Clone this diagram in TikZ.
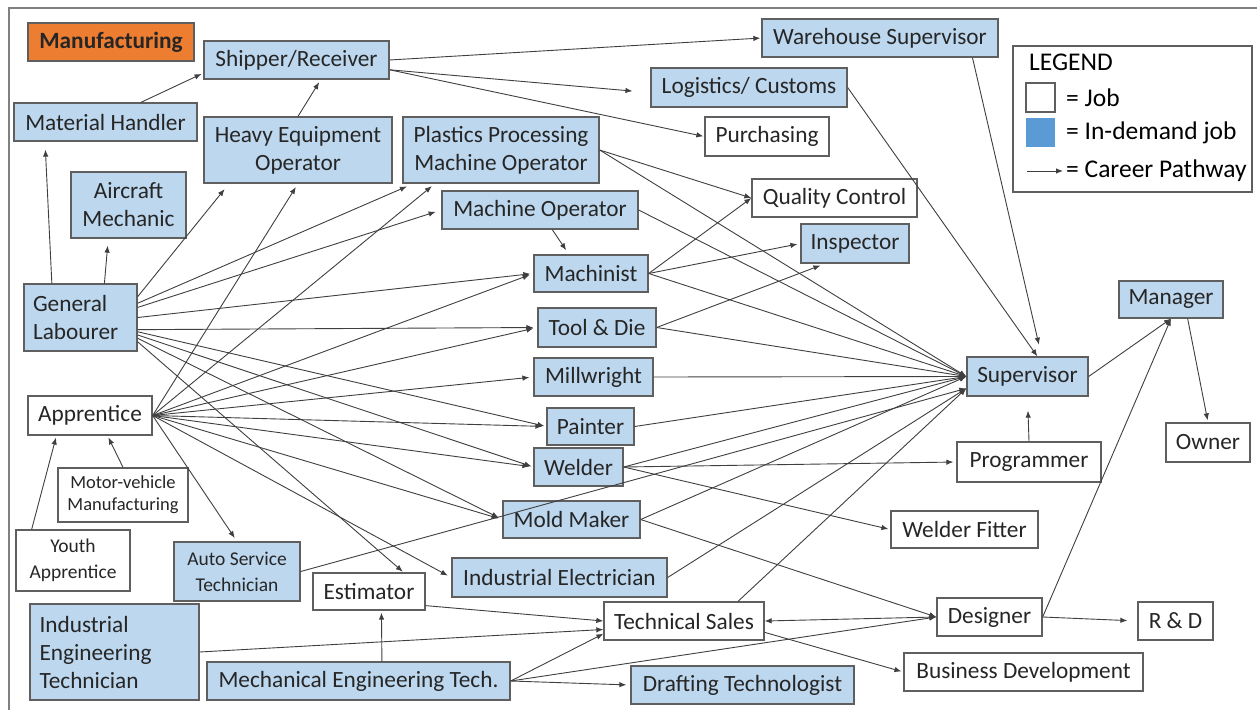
\documentclass[tikz,border=0pt]{standalone}
\usepackage{fontspec}
\setmainfont{Carlito}
\usepackage{xcolor}
\usepackage{tikz}
\usetikzlibrary{bayesnet,arrows.meta}

\definecolor{demandblue}{HTML}{BDD7EE}
\definecolor{legendblue}{HTML}{5B9BD5}
\definecolor{mfgorange}{HTML}{ED7D31}
\definecolor{boxgray}{HTML}{5F5F5F}
\definecolor{linegray}{HTML}{3F3F3F}
\definecolor{framegray}{HTML}{808080}

\newcommand{\jobfont}{\fontsize{23.3}{28}\selectfont}
\newcommand{\jobsmall}{\fontsize{19.5}{26}\selectfont}
\newcommand{\jobtiny}{\fontsize{18.5}{22}\selectfont}
\newcommand{\legendfont}{\fontsize{25.5}{29}\selectfont}

\tikzset{
  job/.style={draw=boxgray, line width=1.3pt, fill=white, inner sep=0pt,
    align=center, font=\jobfont, text=black!85},
  demand/.style={job, fill=demandblue},
  dims/.style 2 args={minimum width=#1pt, minimum height=#2pt},
  link/.style={draw=linegray, line width=0.9pt, >={Latex[length=7pt,width=5.5pt]}},
  legtext/.style={anchor=west, inner sep=0pt, font=\legendfont},
}

\begin{document}
\begin{tikzpicture}[x=1pt, y=-1pt]
  \useasboundingbox (0,0) rectangle (1257,709);
  \draw[framegray, line width=1.6pt] (9,8) rectangle (1264,716);

  % Define nodes
  \node[job, fill=mfgorange, dims={166}{38}, font=\jobfont\bfseries] (manu) at (111,42) {Manufacturing};
  \node[demand, dims={185}{38}] (ship) at (296.5,60) {Shipper/Receiver};
  \node[demand, dims={183}{38}] (mh) at (105.5,122) {Material Handler};
  \node[demand, dims={188}{66}] (heo) at (298,150) {Heavy Equipment\\Operator};
  \node[demand, dims={115}{66}] (ac) at (128.5,205) {Aircraft\\Mechanic};
  \node[demand, dims={196}{66}] (ppmo) at (501,150) {Plastics Processing\\Machine Operator};
  \node[demand, dims={236}{38}] (ws) at (880,38) {Warehouse Supervisor};
  \node[demand, dims={196}{39}] (log) at (749,87.5) {Logistics/ Customs};
  \node[job, dims={124}{39}] (pur) at (767,136.5) {Purchasing};
  \node[demand, dims={196}{38}] (mo) at (540,210) {Machine Operator};
  \node[job, dims={165}{38}] (qc) at (834.5,198) {Quality Control};
  \node[demand, dims={108}{39}] (insp) at (855,243.5) {Inspector};
  \node[demand, dims={113}{67}, text width=95pt, align=left] (gl) at (80.5,317.5) {General\\Labourer};
  \node[job, dims={124}{39}] (app) at (90,415.5) {Apprentice};
  \node[demand, dims={114}{37}] (mach) at (591,273.5) {Machinist};
  \node[demand, dims={118}{39}] (td) at (597,327.5) {Tool \& Die};
  \node[demand, dims={119}{38}] (mill) at (593.5,377) {Millwright};
  \node[demand, dims={87}{37}] (paint) at (590.5,426.5) {Painter};
  \node[demand, dims={89}{38}] (weld) at (578.5,467) {Welder};
  \node[demand, dims={137}{37}] (mold) at (571.5,519.5) {Mold Maker};
  \node[demand, dims={215}{39}] (ie) at (559.5,577.5) {Industrial Electrician};
  \node[job, dims={160}{38}] (ts) at (684,621) {Technical Sales};
  \node[demand, dims={223}{38}] (dt) at (742.5,685) {Drafting Technologist};
  \node[demand, dims={303}{38}] (met) at (358.5,681) {Mechanical Engineering Tech.};
  \node[demand, dims={169}{96}, text width=150pt, align=left] (iet) at (114.5,652) {Industrial\\Engineering\\Technician};
  \node[job, dims={112}{37}] (est) at (369,591.5) {Estimator};
  \node[demand, dims={126}{59}, font=\jobsmall] (ast) at (237,571.5) {Auto Service\\Technician};
  \node[job, dims={114}{61}, font=\jobsmall] (ya) at (73,560.5) {Youth\\Apprentice};
  \node[job, dims={130}{54}, font=\jobtiny] (mvm) at (123,495) {Motor-vehicle\\Manufacturing};
  \node[demand, dims={121}{39}] (sup) at (1027.5,376.5) {Supervisor};
  \node[demand, dims={104}{37}] (mgr) at (1171,299.5) {Manager};
  \node[job, dims={84}{39}] (own) at (1208,442.5) {Owner};
  \node[job, dims={144}{40}] (prog) at (1029,462) {Programmer};
  \node[job, dims={147}{37}] (wf) at (964.5,529.5) {Welder Fitter};
  \node[job, dims={105}{38}] (des) at (989.5,617) {Designer};
  \node[job, dims={75}{38}] (rd) at (1175.5,621) {R \& D};
  \node[job, dims={239}{38}] (bd) at (1023.5,672) {Business Development};

  % Legend
  \node[draw=boxgray, line width=1.2pt, dims={239}{146}] (legend) at (1132.5,119) {};
  \node[legtext] (lghead) at (1029,62) {LEGEND};
  \node[job, dims={29}{29}] (lgjob) at (1040.5,97.5) {};
  \node[fill=legendblue, dims={29}{29}] (lgdem) at (1040.5,132.5) {};
  \node[legtext] (ljob) at (1066,98) {= Job};
  \node[legtext] (ldem) at (1066,133) {= In-demand job};
  \node[legtext] (lpath) at (1066,171) {= Career Pathway};
  \coordinate (la) at (1027,171);
  \coordinate (lb) at (1063,171);

  % Career pathways
  \edge[link, shorten >=2pt]{mh.29}{ship.188};
  \edge[link, shorten >=3pt]{heo.north}{ship.321};
  \edge[link, shorten >=1pt]{ship.east}{ws.west};
  \edge[link, shorten >=18pt]{ship.354}{log.183};
  \edge[link, shorten >=1pt]{ship.354}{pur.west};
  \edge[link, shorten >=8pt]{gl.130}{mh.198};
  \edge[link, shorten >=7pt]{gl.55}{ac.239};
  \edge[link, shorten >=7pt]{gl.20}{heo.206};
  \edge[link, shorten >=7pt]{gl.14}{ppmo.201};
  \edge[link, shorten >=6pt]{gl.10}{mo.west};
  \edge[link, shorten >=3pt]{gl.east}{mach.west};
  \edge[link, shorten >=4pt]{gl.348}{td.west};
  \edge[link, shorten >=2pt]{gl.346}{paint.west};
  \edge[link, shorten >=2pt]{gl.343}{weld.west};
  \edge[link, shorten >=4pt]{gl.340}{mold.west};
  \edge[link, shorten >=1pt]{gl.337}{est.29};
  \edge[link, shorten >=4pt]{app.east}{heo.south,ppmo.207,mach.west,td.west,mill.west,paint.west,weld.west,mold.west,ie.west,ast.north};
  \edge[link, shorten >=2pt]{mvm.north}{app.311};
  \edge[link, shorten >=2pt]{ya.143}{app.211};
  \edge[link, shorten >=5pt]{mo.302}{mach.139};
  \edge[link]{ppmo.east,mach.east}{qc.west};
  \edge[link, shorten >=3pt]{mach.east}{insp.west};
  \edge[link, shorten >=5pt]{td.east}{insp.214};
  \edge[link]{ppmo.east,mo.east,mach.east,td.east,mill.east,paint.east,weld.east,mold.east}{sup.west};
  \edge[link]{ie.east,ts.20,ast.east}{sup.191};
  \edge[link]{log.east}{sup.64};
  \edge[link, shorten >=12pt]{ws.348}{sup.55};
  \edge[link, shorten >=14pt]{prog.north}{sup.south};
  \edge[link, shorten >=3pt]{weld.east}{prog.west};
  \edge[link, shorten >=2pt]{weld.east}{wf.west};
  \edge[link]{mold.east,met.east}{des.west};
  \edge[link, <->]{ts.east}{des.west};
  \edge[link, shorten >=2pt]{ts.352}{bd.west};
  \edge[link]{est.346}{ts.west};
  \edge[link]{iet.east}{ts.186};
  \edge[link]{met.east}{ts.189};
  \edge[link, shorten >=4pt]{met.east}{dt.west};
  \edge[link, shorten >=2pt]{met.40}{est.303};
  \edge[link]{sup.east,des.east}{mgr.south};
  \edge[link, shorten >=2pt]{mgr.311}{own.north};
  \edge[link, shorten >=10pt]{des.east}{rd.west};
  \edge[link]{la}{lb};
\end{tikzpicture}
\end{document}
